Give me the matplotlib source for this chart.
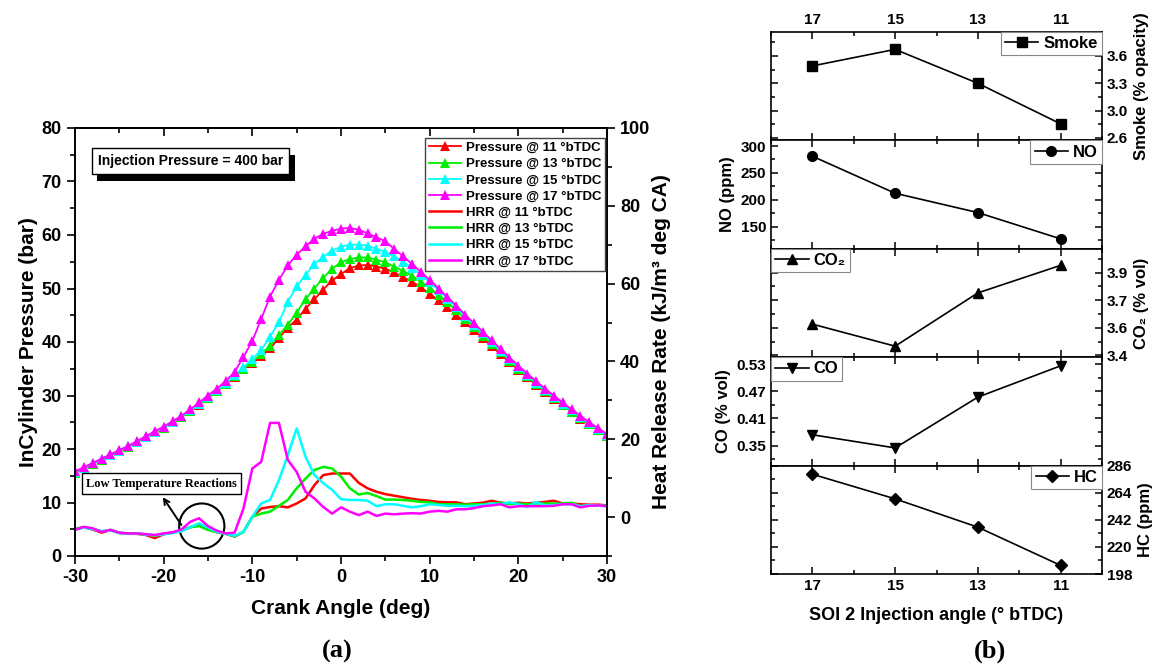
import matplotlib
matplotlib.use('Agg')
import matplotlib.pyplot as plt
import numpy as np
import matplotlib.patheffects as pe
from matplotlib.patches import Ellipse
from matplotlib.ticker import MultipleLocator, AutoMinorLocator

plt.rcParams['font.family'] = ['Liberation Sans', 'DejaVu Sans']
plt.rcParams['font.weight'] = 'bold'
plt.rcParams['axes.labelweight'] = 'bold'
plt.rcParams['axes.linewidth'] = 1.2
plt.rcParams['axes.unicode_minus'] = False

# ---- (a) in-cylinder pressure and heat release rate vs crank angle ----
crank = np.arange(-30, 31, 1)

p11 = [15.6, 16.4, 17.2, 18.0, 18.8, 19.6, 20.4, 21.3, 22.2, 23.1, 24.0, 25.0, 26.0, 27.1, 28.3, 29.5, 30.8, 32.1, 33.5,
       34.9, 36.0, 37.3, 38.8, 40.7, 42.7, 44.2, 46.2, 48.0, 49.8, 51.5, 52.7,
       53.8, 54.3, 54.4, 54.1, 53.7, 53.0, 52.1, 51.3, 50.2, 49.0, 47.8, 46.5, 45.1, 43.7, 42.2,
       40.7, 39.2, 37.7, 36.2, 34.8, 33.4, 32.0, 30.7, 29.4, 28.2, 26.9, 25.7, 24.6, 23.5, 22.4]
p13 = [15.6, 16.4, 17.2, 18.0, 18.8, 19.6, 20.4, 21.3, 22.2, 23.1, 24.0, 25.0, 26.0, 27.1, 28.4, 29.6, 30.9, 32.2, 33.6,
       35.0, 36.3, 37.8, 39.3, 41.3, 43.2, 45.5, 48.0, 50.0, 52.0, 53.7, 54.9,
       55.5, 55.8, 55.8, 55.4, 54.9, 54.1, 53.3, 52.4, 51.3, 50.1, 48.8, 47.4, 45.9, 44.3, 42.8,
       41.2, 39.6, 38.1, 36.5, 35.0, 33.6, 32.2, 30.8, 29.5, 28.3, 27.0, 25.8, 24.7, 23.6, 22.5]
p15 = [15.7, 16.5, 17.3, 18.1, 18.9, 19.7, 20.5, 21.4, 22.3, 23.2, 24.1, 25.1, 26.1, 27.2, 28.5, 29.8, 31.0, 32.3, 33.8,
       35.3, 36.8, 38.5, 41.0, 43.7, 47.5, 50.4, 52.5, 54.6, 55.9, 57.1, 57.8,
       58.2, 58.2, 58.0, 57.4, 56.8, 56.0, 55.0, 53.9, 52.6, 51.2, 49.7, 48.1, 46.5, 44.8, 43.2,
       41.6, 40.0, 38.4, 36.8, 35.3, 33.8, 32.4, 31.0, 29.7, 28.4, 27.2, 26.0, 24.8, 23.7, 22.6]
p17 = [15.8, 16.6, 17.4, 18.2, 19.0, 19.8, 20.6, 21.5, 22.4, 23.3, 24.2, 25.2, 26.2, 27.4, 28.7, 30.0, 31.3, 32.7, 34.4,
       37.2, 40.2, 44.3, 48.5, 51.6, 54.3, 56.3, 57.9, 59.3, 60.2, 60.8, 61.2,
       61.3, 61.0, 60.3, 59.6, 58.8, 57.4, 56.0, 54.6, 53.1, 51.6, 50.0, 48.4, 46.8, 45.1, 43.5,
       41.9, 40.3, 38.7, 37.1, 35.6, 34.1, 32.7, 31.3, 30.0, 28.7, 27.4, 26.2, 25.0, 23.9, 22.8]

hrr11 = [-3.0, -2.6, -3.2, -4.0, -3.3, -4.1, -4.3, -4.3, -4.6, -5.4, -4.4, -4.0, -3.4,
         -2.6, -2.0, -3.0, -3.9, -4.3, -5.0,
         -3.8, 0.1, 2.2, 2.6, 2.8, 2.5, 3.5, 4.8, 8.2, 10.8, 11.2, 11.2,
         11.2, 8.8, 7.4, 6.5, 5.9, 5.5, 5.1, 4.7, 4.4, 4.2, 3.9, 3.8, 3.8, 3.3, 3.5,
         3.7, 4.2, 3.7, 3.5, 3.7, 3.5, 3.7, 3.9, 4.2, 3.5, 3.5, 3.3, 3.2, 3.2, 3.0]
hrr13 = [-3.2, -2.6, -3.0, -3.7, -3.3, -4.0, -4.2, -4.3, -4.4, -4.8, -4.3, -4.0, -3.6,
         -2.6, -2.3, -3.3, -3.9, -4.3, -4.9,
         -3.8, 0.1, 0.9, 1.4, 2.9, 4.4, 7.4, 9.9, 12.1, 12.9, 12.5, 10.4,
         7.4, 5.8, 6.2, 5.4, 4.5, 4.5, 4.4, 4.2, 3.9, 3.8, 3.3, 3.3, 3.3, 3.2, 3.3,
         3.3, 3.5, 3.7, 3.3, 3.5, 3.3, 3.5, 3.5, 3.5, 3.5, 3.7, 2.8, 3.0, 3.0, 2.9]
hrr15 = [-3.1, -2.7, -3.1, -3.6, -3.4, -4.1, -4.3, -4.2, -4.5, -4.7, -4.4, -4.1, -3.6,
         -2.6, -1.6, -2.7, -3.8, -4.3, -4.8,
         -3.8, 0.1, 3.5, 4.4, 9.5, 15.9, 22.8, 15.5, 10.8, 8.7, 7.0, 4.6,
         4.4, 4.4, 4.2, 2.8, 3.3, 3.3, 2.9, 2.5, 2.8, 3.3, 3.1, 2.9, 2.9, 2.8, 2.9,
         3.1, 3.5, 3.3, 3.8, 3.3, 2.6, 3.9, 3.0, 3.1, 3.3, 3.3, 2.8, 3.1, 2.9, 2.8]
hrr17 = [-3.3, -2.5, -2.9, -3.8, -3.3, -4.0, -4.2, -4.2, -4.4, -4.6, -4.2, -3.9, -3.2,
         -1.2, -0.3, -2.3, -3.5, -4.2, -4.0,
         2.2, 12.5, 14.2, 24.2, 24.2, 14.7, 11.6, 6.5, 4.8, 2.6, 0.9, 2.5,
         1.4, 0.5, 1.4, 0.3, 0.9, 0.7, 0.9, 1.0, 0.9, 1.4, 1.6, 1.4, 2.0, 2.0, 2.3,
         2.8, 3.0, 3.3, 2.5, 2.8, 2.8, 2.8, 2.8, 2.9, 3.3, 3.3, 2.5, 2.9, 3.0, 2.8]

timings = ['11', '13', '15', '17']
colors = ['#ff0000', '#00ee00', '#00ffff', '#ff00ff']

# ---- (b) emissions vs SOI 2 injection angle ----
soi = [17, 15, 13, 11]
smoke = [3.51, 3.71, 3.30, 2.81]
no_ppm = [281, 212, 176, 127]
co2 = [3.61, 3.49, 3.78, 3.93]
co = [0.374, 0.345, 0.457, 0.526]
hc = [279, 259, 236, 205]

smoke_ticks = [2.64, 2.97, 3.30, 3.63]
smoke_labels = ['2.6', '3.0', '3.3', '3.6']
no_ticks = [150, 200, 250, 300]
co2_ticks = [3.44, 3.59, 3.74, 3.89]
co2_labels = ['3.4', '3.6', '3.7', '3.9']
co_ticks = [0.35, 0.41, 0.47, 0.53]
hc_ticks = [198, 220, 242, 264, 286]

W, H = 1160, 670
fig = plt.figure(figsize=(W / 100, H / 100), dpi=100)

# left chart
ax = fig.add_axes([75 / W, (H - 556) / H, 532 / W, 428 / H])
ax2 = ax.twinx()
handles = []
for t, c, p in zip(timings, colors, [p11, p13, p15, p17]):
    h, = ax.plot(crank, p, color=c, lw=1.3, marker='^', ms=7.5, mew=0,
                 label='Pressure @ %s °bTDC' % t)
    handles.append(h)
for t, c, q in zip(timings, colors, [hrr11, hrr13, hrr15, hrr17]):
    h, = ax2.plot(crank, q, color=c, lw=1.8, label='HRR @ %s °bTDC' % t)
    handles.append(h)

ax.set_xlim(-30, 30)
ax.set_ylim(0, 80)
ax2.set_ylim(-10, 100)
ax.xaxis.set_major_locator(MultipleLocator(10))
ax.xaxis.set_minor_locator(MultipleLocator(5))
ax.yaxis.set_major_locator(MultipleLocator(10))
ax.yaxis.set_minor_locator(MultipleLocator(5))
ax2.yaxis.set_major_locator(MultipleLocator(20))
ax2.yaxis.set_minor_locator(MultipleLocator(10))
for a in (ax, ax2):
    a.tick_params(which='major', direction='out', length=6, width=1.2, labelsize=13)
    a.tick_params(which='minor', direction='out', length=3.5, width=1.2)
sec = ax.secondary_xaxis('top')
sec.xaxis.set_major_locator(MultipleLocator(10))
sec.xaxis.set_minor_locator(MultipleLocator(5))
sec.tick_params(which='both', direction='in', labeltop=False, width=1.2)
sec.tick_params(which='major', length=6)
sec.tick_params(which='minor', length=3.5)

ax.set_xlabel('Crank Angle (deg)', fontsize=15, labelpad=9)
ax.set_ylabel('InCylinder Pressure (bar)', fontsize=15, labelpad=3)
ax2.set_ylabel('Heat Release Rate (kJ/m³ deg CA)', fontsize=15, labelpad=1)

leg = ax2.legend(handles=handles, loc='upper right', bbox_to_anchor=(0.997, 0.977),
                 borderaxespad=0, fontsize=9.5, numpoints=1, handlelength=2.4,
                 handletextpad=0.4, labelspacing=0.3, borderpad=0.3,
                 fancybox=False, framealpha=1, edgecolor='#444444')
leg.get_frame().set_linewidth(1.0)

tb = ax2.text(-16.98, 91.5, 'Injection Pressure = 400 bar', ha='center', va='center',
              fontsize=10, bbox=dict(boxstyle='square,pad=0.45', fc='white', ec='black', lw=1))
tb.get_bbox_patch().set_path_effects([
    pe.SimplePatchShadow(offset=(4, -5), shadow_rgbFace='black', alpha=1.0), pe.Normal()])

ax2.text(-20.26, 8.6, 'Low Temperature Reactions', ha='center', va='center',
         fontsize=9, family=['Liberation Serif', 'DejaVu Serif'],
         bbox=dict(boxstyle='square,pad=0.35', fc='white', ec='black', lw=1))
ax.annotate('', xy=(-20.1, 11.0), xytext=(-18.0, 5.8),
            arrowprops=dict(arrowstyle='->', lw=1.4, color='black', shrinkA=0, shrinkB=0))
ax.add_patch(Ellipse((-15.7, 5.6), 5.1, 8.44, fill=False, ec='black', lw=1.5))

fig.text(337 / W, 1 - 651 / H, '(a)', fontsize=19, family=['Liberation Serif', 'DejaVu Serif'],
         ha='center', va='center')
fig.text(990 / W, 1 - 651 / H, '(b)', fontsize=19, family=['Liberation Serif', 'DejaVu Serif'],
         ha='center', va='center')

# right panels
panels = [
    (smoke, 's', 'Smoke', 'Smoke (% opacity)', 'right', smoke_ticks, smoke_labels, (2.61, 3.92), 'upper right'),
    (no_ppm, 'o', 'NO', 'NO (ppm)', 'left', no_ticks, None, (108.5, 310.5), 'upper right'),
    (co2, '^', 'CO₂', 'CO₂ (% vol)', 'right', co2_ticks, co2_labels, (3.43, 4.02), 'upper left'),
    (co, 'v', 'CO', 'CO (% vol)', 'left', co_ticks, None, (0.306, 0.545), 'upper left'),
    (hc, 'D', 'HC', 'HC (ppm)', 'right', hc_ticks, None, (198, 286), 'upper right'),
]
top, ph = 32, 108.4
n = len(panels)
for i, (vals, mk, name, ylab, side, yt, ylabs, ylim, loc) in enumerate(panels):
    a = fig.add_axes([771 / W, (H - top - (i + 1) * ph) / H, 331 / W, ph / H])
    a.plot(soi, vals, color='black', lw=1.2, marker=mk, ms=7 if mk != 'D' else 6.5, label=name)
    a.set_xlim(18, 10)
    a.set_ylim(*ylim)
    a.set_xticks([17, 15, 13, 11])
    a.xaxis.set_minor_locator(MultipleLocator(1))
    a.set_yticks(yt)
    if ylabs is not None:
        a.set_yticklabels(ylabs)
    a.yaxis.set_minor_locator(AutoMinorLocator(2))
    a.tick_params(which='both', direction='in', top=True, right=True, left=True, bottom=True,
                  labelsize=11, width=1.1,
                  labelbottom=(i == n - 1), labeltop=(i == 0),
                  labelleft=(side == 'left'), labelright=(side == 'right'))
    a.tick_params(which='major', length=5)
    a.tick_params(which='minor', length=3)
    a.yaxis.set_label_position(side)
    a.set_ylabel(ylab, fontsize=12, labelpad=4)
    lg = a.legend(loc=loc, borderaxespad=0, fontsize=12, handlelength=2.0, handletextpad=0.3,
                  borderpad=0.25, fancybox=False, framealpha=1, edgecolor='#888888', numpoints=1)
    lg.get_frame().set_linewidth(0.8)
    if i == n - 1:
        a.set_xlabel('SOI 2 Injection angle (° bTDC)', fontsize=13, labelpad=10)

fig.savefig('out.png', dpi=100)
